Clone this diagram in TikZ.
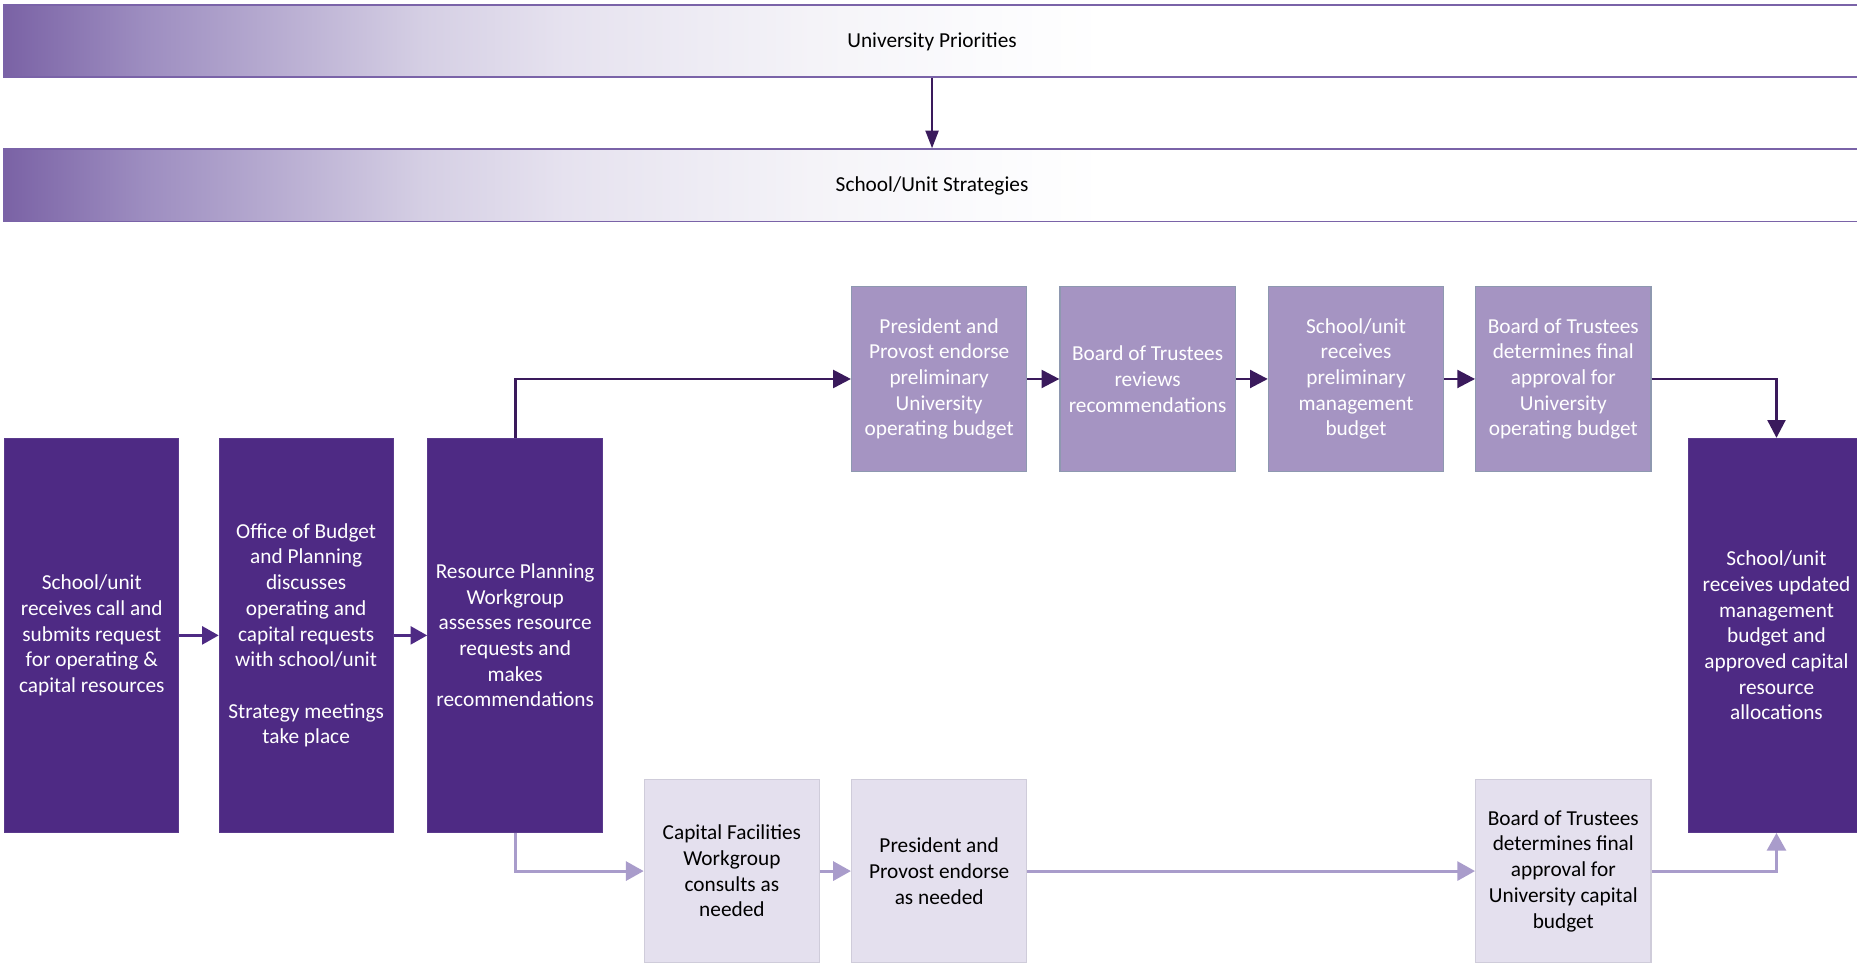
\documentclass[tikz,border=0pt]{standalone}
\usepackage{fontspec}
\setmainfont{Carlito}
\usetikzlibrary{arrows.meta,calc}
\definecolor{dk}{HTML}{4E2A84}
\definecolor{dkb}{HTML}{5A3A8C}
\definecolor{md}{HTML}{A594C2}
\definecolor{mdb}{HTML}{8E98B0}
\definecolor{lt}{HTML}{E4E0EE}
\definecolor{ltb}{HTML}{CFCCDA}
\definecolor{darrc}{HTML}{3A1A5C}
\definecolor{larrc}{HTML}{A99CCB}
\definecolor{barb}{HTML}{7A63A8}
\definecolor{barL}{HTML}{7A62A5}
\definecolor{gA}{HTML}{9D8DC0}
\definecolor{gB}{HTML}{B9AED2}
\definecolor{gC}{HTML}{D5CFE4}
\definecolor{gD}{HTML}{E6E2EF}
\definecolor{gE}{HTML}{EEECF4}
\definecolor{gF}{HTML}{F6F5F9}
\definecolor{gG}{HTML}{FBFBFD}
\pgfdeclarehorizontalshading{barshade}{100bp}{color(0bp)=(barL); color(25bp)=(barL); color(28.76bp)=(gA); color(32.56bp)=(gB); color(36.32bp)=(gC); color(40.11bp)=(gD); color(43.88bp)=(gE); color(47.67bp)=(gF); color(51.47bp)=(gG); color(54.66bp)=(white); color(100bp)=(white)}
\begin{document}
\begin{tikzpicture}[x=1pt,y=-1pt,
  txt/.style={font=\fontsize{18}{21.7}\selectfont, align=center, inner sep=0pt},
  bar/.style={rectangle, draw=barb, line width=1.6pt, minimum width=1568, minimum height=61,
    font=\fontsize{18}{21.7}\selectfont, inner sep=0pt, text height=15pt, text depth=4.5pt,
    path picture={\shade[shading=barshade]
      (path picture bounding box.south west) rectangle (path picture bounding box.north east);}},
  dkbox/.style={txt, rectangle, fill=dk, draw=dkb, line width=0.6pt, text=white, minimum width=147, minimum height=333},
  mdbox/.style={txt, rectangle, fill=md, draw=mdb, line width=1pt, text=white, minimum width=148, minimum height=156},
  ltbox/.style={txt, rectangle, fill=lt, draw=ltb, line width=1pt, text=black, minimum width=148, minimum height=155},
  dkarr/.style={draw=dk, line width=2.6pt, -{Triangle[length=14pt,width=15pt]}},
  darr/.style={draw=darrc, line width=2.4pt, -{Triangle[length=15pt,width=15pt]}},
  larr/.style={draw=larrc, line width=2.6pt, -{Triangle[length=15pt,width=16pt]}},
  barr/.style={draw=darrc, line width=2pt, -{Triangle[length=15pt,width=11pt]}}
]
\useasboundingbox (0,0) rectangle (1568,816.5);
\clip (0,0) rectangle (1568,816.5);
\fill[white] (0,0) rectangle (1568,816.5);

\node[bar] (up) at (787,34.5) {University Priorities};
\node[bar] (ss) at (787,156.5) {School/Unit Strategies};

\node[dkbox] (b1) at (77.5,536.5) {School/unit\\receives call and\\submits request\\for operating \&\\capital resources};
\node[dkbox] (b2) at (258.5,536.5) {Office of Budget\\and Planning\\discusses\\operating and\\capital requests\\with school/unit\\[21.7pt]Strategy meetings\\take place};
\node[dkbox, minimum width=148] (b3) at (435,536.5) {Resource Planning\\Workgroup\\assesses resource\\requests and\\makes\\recommendations};
\node[dkbox, minimum width=148] (rb) at (1500,536.5) {School/unit\\receives updated\\management\\budget and\\approved capital\\resource\\allocations};

\node[mdbox] (t1) at (793,320) {President and\\Provost endorse\\preliminary\\University\\operating budget};
\node[mdbox] (t2) at (969,320) {Board of Trustees\\reviews\\recommendations};
\node[mdbox] (t3) at (1145,320) {School/unit\\receives\\preliminary\\management\\budget};
\node[mdbox] (t4) at (1320,320) {Board of Trustees\\determines final\\approval for\\University\\operating budget};

\node[ltbox] (c1) at (618,735.5) {Capital Facilities\\Workgroup\\consults as\\needed};
\node[ltbox] (c2) at (793,735.5) {President and\\Provost endorse\\as needed};
\node[ltbox] (c3) at (1320,735.5) {Board of Trustees\\determines final\\approval for\\University capital\\budget};

\draw[barr] (up.south) -- (ss.north);

\draw[dkarr] (b1.east) -- (b2.west);
\draw[dkarr] (b2.east) -- (b3.west);

\draw[darr] (b3.north) |- (t1.west);
\draw[darr] (t1.east) -- (t2.west);
\draw[darr] (t2.east) -- (t3.west);
\draw[darr] (t3.east) -- (t4.west);
\draw[darr] (t4.east) -| (rb.north);

\draw[larr] (b3.south) |- (c1.west);
\draw[larr] (c1.east) -- (c2.west);
\draw[larr] (c2.east) -- (c3.west);
\draw[larr] (c3.east) -| (rb.south);
\end{tikzpicture}
\end{document}
